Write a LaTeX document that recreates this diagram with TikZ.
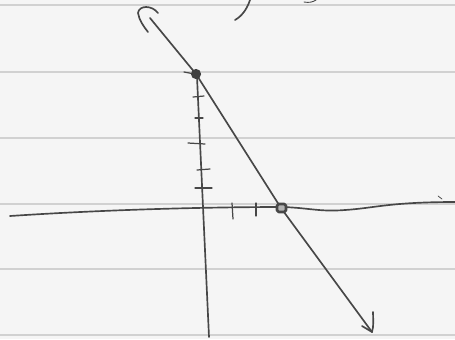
\documentclass[tikz,border=0pt]{standalone}
\begin{document}
\begin{tikzpicture}[x=0.02cm,y=-0.02cm,line cap=round,line join=round,>=latex,
  pencil/.style={draw=black!72,line width=0.95pt},
  rule/.style={draw=black!18,line width=1pt},
  tick/.style={pencil,line width=0.7pt}]
  \useasboundingbox (0,0) rectangle (455,339);
  \fill[black!4] (0,0) rectangle (455,339);
  % ruled paper
  \foreach \yy in {5,72,138,204,269,335}
    \draw[rule] (0,\yy) -- (455,\yy);
  % cut-off writing at the top
  \draw[pencil] (235,20) .. controls (242,16) and (247,9) .. (250,0);
  \draw[pencil,line width=0.5pt] (304,2) .. controls (309,3) and (313,2) .. (316,0);
  % axes
  \coordinate (xl) at (10,216);
  \coordinate (xr) at (455,202);
  \coordinate (yt) at (197,77);
  \coordinate (yb) at (209,337);
  \draw[pencil] (xl) .. controls (100,210) and (200,207) .. (283,207)
    .. controls (310,208) and (320,212) .. (345,210)
    .. controls (375,208) and (390,202) .. (xr);
  \draw[pencil] (yt) -- (yb);
  \draw[pencil,line width=0.4pt] (438,196) -- (442,199);
  % ticks on the y axis
  \draw[tick] (184,72) -- (200,75);
  \draw[tick] (193,97) -- (204,96);
  \draw[tick] (195,118) -- (203,118);
  \draw[tick] (188,143) -- (205,144);
  \draw[tick] (197,170) -- (210,169);
  \draw[tick] (195,188) -- (212,188);
  % ticks on the x axis
  \draw[tick] (232,203) -- (233,219);
  \draw[tick] (256,203) -- (256,216);
  % the line
  \coordinate (top) at (150,18);
  \coordinate (yint) at (196,74);
  \coordinate (xint) at (281,208);
  \coordinate (bot) at (372,332);
  \draw[pencil] (top) -- (yint) -- (xint) -- (bot);
  \draw[pencil] (158,13) .. controls (152,5) and (139,5) .. (138,13)
    .. controls (139,20) and (144,27) .. (148,32);
  \draw[pencil] (362,326) -- (bot) .. controls (374,326) and (373,318) .. (373,312);
  % intercepts
  \fill[black!75] (yint) circle (2.9pt);
  \draw[pencil,line width=1.5pt,fill=black!30,rounded corners=1pt]
    (277,204) rectangle (286,212);
\end{tikzpicture}
\end{document}
